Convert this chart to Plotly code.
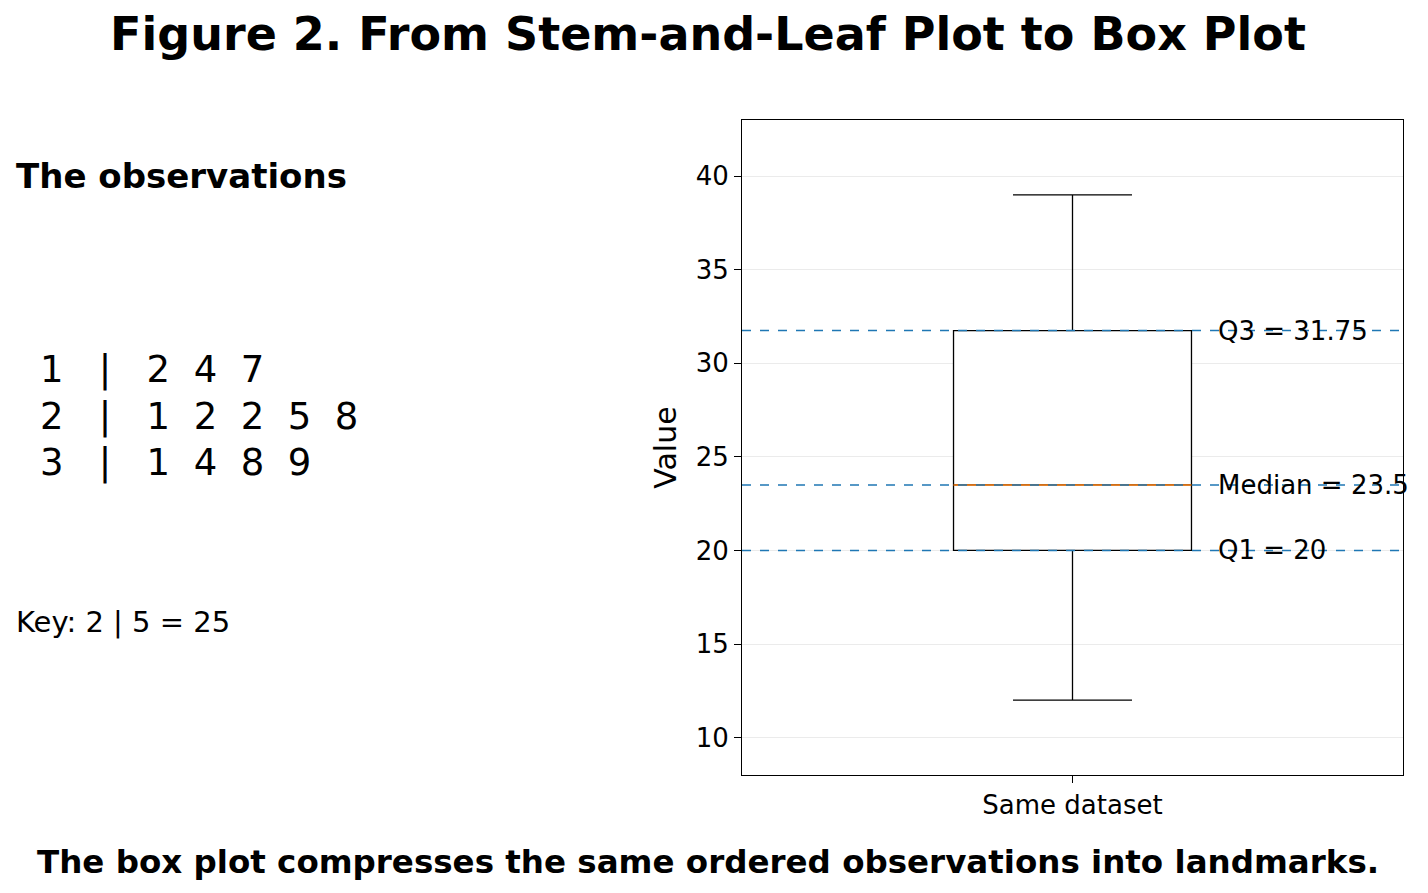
import plotly.graph_objects as go

# stem-and-leaf data
stems = [1, 2, 3]
leaves = [[2, 4, 7], [1, 2, 2, 5, 8], [1, 4, 8, 9]]
values = [s * 10 + l for s, lv in zip(stems, leaves) for l in lv]

q1 = 20
median = 23.5
q3 = 31.75
low = min(values)
high = max(values)
category = "Same dataset"

font = "DejaVu Sans"
blue = "#1f77b4"
W, H = 1428, 893
OFF = 8  # page body margin


def px(x):
    return (x - OFF) / W


def py(y):
    return 1 - (y - OFF) / H


fig = go.Figure()
fig.add_trace(go.Box(
    x=[0], q1=[q1], median=[median], q3=[q3],
    lowerfence=[low], upperfence=[high],
    width=0.36, whiskerwidth=0.5,
    line=dict(color="black", width=1.3), fillcolor="white",
    boxpoints=False, hoverinfo="skip", showlegend=False,
))

# median line in orange, quartile reference lines dashed
fig.add_shape(type="line", xref="x", yref="y", x0=-0.18, x1=0.18, y0=median, y1=median,
              line=dict(color="#ff7f0e", width=1.5))
for val, label in [(q3, f"Q3 = {q3}"), (median, f"Median = {median}"), (q1, f"Q1 = {q1}")]:
    fig.add_shape(type="line", xref="x domain", yref="y", x0=0, x1=1, y0=val, y1=val,
                  line=dict(color=blue, width=1.5, dash="dash"))
    fig.add_annotation(x=px(1216), y=val, xref="paper", yref="y", text=label, showarrow=False,
                       xanchor="left", yanchor="middle", font=dict(size=26, color="black"))

# left panel text
fig.add_annotation(x=px(14), y=py(176), xref="paper", yref="paper", text="<b>The observations</b>",
                   showarrow=False, xanchor="left", yanchor="middle", font=dict(size=34))
for i, (s, lv) in enumerate(zip(stems, leaves)):
    row = f"{s}&nbsp;&nbsp;&nbsp;|&nbsp;&nbsp;&nbsp;" + "&nbsp;&nbsp;".join(str(l) for l in lv)
    fig.add_annotation(x=px(38), y=py(370 + 46 * i), xref="paper", yref="paper",
                       text=row, showarrow=False, xanchor="left", yanchor="middle",
                       font=dict(size=37))
fig.add_annotation(x=px(14), y=py(622), xref="paper", yref="paper", text="Key: 2 | 5 = 25",
                   showarrow=False, xanchor="left", yanchor="middle", font=dict(size=29))
fig.add_annotation(x=px(708), y=py(862), xref="paper", yref="paper",
                   text="<b>The box plot compresses the same ordered observations into landmarks.</b>",
                   showarrow=False, xanchor="center", yanchor="middle", font=dict(size=32.5))

fig.update_layout(
    width=W, height=H,
    margin=dict(l=0, r=0, t=0, b=0),
    paper_bgcolor="white", plot_bgcolor="white",
    font=dict(family=font, color="black"),
    title=dict(text="<b>Figure 2. From Stem-and-Leaf Plot to Box Plot</b>", x=px(708), xanchor="center",
               y=py(34), yanchor="middle", font=dict(size=46)),
    xaxis=dict(domain=[px(742), px(1403)], range=[-0.5, 0.5],
               tickvals=[0], ticktext=[category], ticks="outside", ticklen=7, tickcolor="black",
               showgrid=False, zeroline=False, showline=True, mirror=True,
               linecolor="black", tickfont=dict(size=26)),
    yaxis=dict(domain=[py(775), py(120)], range=[8, 43],
               tickvals=[10, 15, 20, 25, 30, 35, 40], ticks="outside", ticklen=7, tickcolor="black",
               showgrid=True, gridcolor="#ebebeb", zeroline=False, showline=True, mirror=True,
               linecolor="black", tickfont=dict(size=26),
               title=dict(text="Value", font=dict(size=30), standoff=10)),
)

fig.write_html("out.html")
